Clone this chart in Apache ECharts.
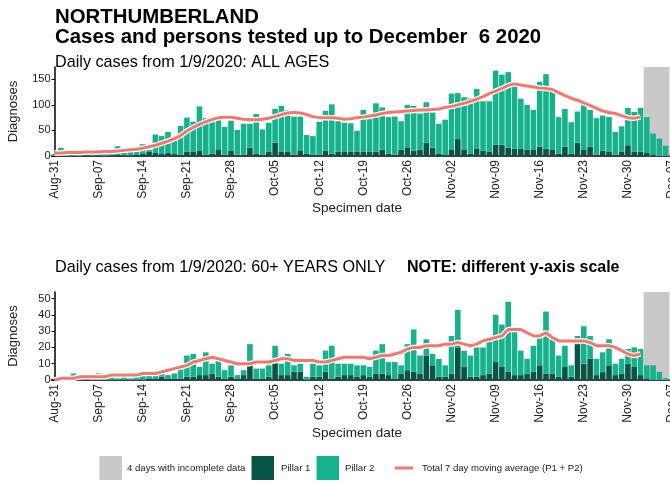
<!DOCTYPE html>
<html>
<head>
<meta charset="utf-8">
<script src="https://cdn.jsdelivr.net/npm/echarts@6/dist/echarts.min.js"></script>
<style>
  html, body { margin: 0; padding: 0; background: #fff; }
  #chart { width: 670px; height: 483px; }
</style>
</head>
<body>
<div id="chart"></div>
<script>
// day 0 = Aug-31, one tick label every 7 days
var tickLabels = ['Aug-31', 'Sep-07', 'Sep-14', 'Sep-21', 'Sep-28', 'Oct-05', 'Oct-12',
  'Oct-19', 'Oct-26', 'Nov-02', 'Nov-09', 'Nov-16', 'Nov-23', 'Nov-30', 'Dec-07'];
var dayCount = 99; // Aug-31 .. Dec-07

// ALL AGES
var allPillar1 = [
  0, 1, 0, 1, 0, 1, 0, 1, 0, 1,
  2, 1, 1, 2, 5, 8, 7, 4, 7, 4,
  3, 8, 9, 11, 3, 4, 13, 3, 11, 3,
  3, 16, 5, 3, 8, 26, 8, 9, 3, 11,
  4, 3, 3, 10, 4, 8, 9, 8, 8, 8,
  9, 8, 12, 4, 3, 12, 17, 10, 12, 26,
  16, 4, 3, 13, 33, 13, 5, 14, 10, 8,
  22, 22, 16, 14, 14, 12, 13, 18, 14, 13,
  5, 18, 4, 26, 13, 18, 3, 10, 9, 3,
  9, 21, 9, 8, 6, 2, 1, 1
];
var allPillar2 = [
  4, 15, 5, 5, 4, 6, 5, 5, 5, 6,
  17, 8, 9, 7, 18, 4, 35, 35, 40, 26,
  56, 67, 58, 86, 71, 62, 57, 54, 58, 48,
  60, 47, 77, 49, 57, 66, 90, 81, 74, 66,
  37, 36, 64, 78, 97, 60, 56, 56, 41, 82,
  63, 95, 83, 72, 74, 56, 83, 88, 71, 79,
  69, 59, 68, 109, 90, 102, 108, 117, 97, 99,
  145, 137, 148, 124, 98, 88, 77, 127, 146, 120,
  71, 74, 62, 61, 86, 72, 71, 69, 67, 44,
  49, 73, 77, 86, 70, 42, 33, 19
];
var allAverage = [
  6, 6, 7, 7, 7, 8, 8, 8, 9, 9,
  10, 11, 12, 13, 15, 18, 21, 25, 29, 34,
  40, 49, 56, 62, 67, 71, 75, 76, 76, 74,
  72, 71, 71, 72, 74, 77, 81, 84, 85, 84,
  81, 77, 75, 75, 75, 74, 72, 73, 75, 76,
  78, 80, 83, 85, 86, 87, 88, 89, 90, 90,
  91, 92, 95, 97, 100, 103, 107, 111, 116, 122,
  127, 132, 138, 141, 139, 137, 135, 133, 132, 130,
  124, 118, 113, 109, 104, 99, 93, 88, 85, 83,
  79, 75, 74, 76
];

// 60+ YEARS ONLY
var oldPillar1 = [
  0, 0, 0, 0, 0, 0, 0, 0, 0, 0,
  0, 0, 0, 0, 0, 1, 1, 2, 1, 1,
  1, 2, 2, 3, 3, 4, 2, 1, 2, 1,
  3, 12, 1, 1, 2, 10, 3, 3, 5, 5,
  0, 2, 2, 5, 1, 2, 3, 3, 2, 3,
  2, 4, 4, 3, 1, 4, 6, 5, 4, 15,
  9, 2, 2, 4, 20, 8, 2, 2, 3, 4,
  11, 8, 5, 3, 3, 4, 5, 9, 4, 4,
  2, 8, 2, 22, 10, 13, 3, 5, 9, 3,
  4, 10, 8, 3, 1, 0, 0, 0
];
var oldPillar2 = [
  0, 1, 0, 4, 1, 0, 1, 4, 1, 2,
  1, 2, 1, 2, 3, 4, 2, 2, 2, 3,
  8, 13, 14, 5, 14, 6, 11, 5, 7, 2,
  3, 10, 6, 6, 7, 11, 7, 13, 4, 5,
  2, 8, 7, 13, 20, 8, 7, 7, 7, 6,
  6, 14, 18, 8, 10, 5, 16, 26, 11, 10,
  7, 11, 7, 23, 23, 10, 13, 18, 17, 21,
  29, 26, 43, 29, 15, 9, 16, 17, 38, 23,
  13, 13, 7, 5, 23, 14, 10, 12, 16, 7,
  9, 9, 12, 16, 8, 9, 5, 1
];
var oldAverage = [
  0, 1, 1, 1, 2, 2, 2, 2, 2, 3,
  3, 3, 3, 3, 4, 4, 4, 5, 6, 7,
  8, 9, 11, 12, 13, 14, 13, 12, 11, 10,
  10, 10, 11, 11, 11, 12, 13, 13, 12, 12,
  12, 12, 11, 11, 12, 13, 14, 14, 14, 14,
  13, 14, 15, 15, 16, 17, 19, 20, 20, 21,
  21, 21, 22, 22, 23, 22, 21, 22, 24, 25,
  26, 27, 31, 31, 31, 29, 27, 27, 29, 26,
  24, 24, 24, 24, 24, 23, 21, 21, 21, 20,
  18, 16, 15, 16
];

var incompleteFrom = 93.5; // Dec 3 .. Dec 6
var incompleteTo = 97.6;

var colP1 = '#0b5443';
var colP2 = '#16b28d';
var colAvg = '#f7766b';
var colGrey = '#c9c9c9';
var font = "'Liberation Sans', Arial, sans-serif";

var days = [];
for (var i = 0; i < dayCount; i++) days.push(String(i));

function weekly(index) { return index % 7 === 0; }

function makeX(gridIndex) {
  return {
    type: 'category', gridIndex: gridIndex, data: days, boundaryGap: true,
    axisLine: { lineStyle: { color: '#000', width: 1.5 } },
    axisTick: { alignWithLabel: true, interval: weekly, length: 4, lineStyle: { color: '#000' } },
    axisLabel: {
      interval: weekly, rotate: 90, margin: 4,
      fontSize: 12, fontFamily: font, color: '#222',
      formatter: function (v, idx) { return tickLabels[Math.round(idx / 7)] || ''; }
    },
    splitLine: { show: false }
  };
}

// hidden linear day axis used only to place the grey band
function makeDayAxis(gridIndex) {
  return {
    type: 'value', gridIndex: gridIndex, min: -0.5, max: dayCount - 0.5, show: false
  };
}

function makeY(gridIndex, max, ticks) {
  return {
    type: 'value', gridIndex: gridIndex, min: 0, max: max, offset: -3.15,
    name: 'Diagnoses', nameLocation: 'middle', nameGap: 35,
    nameTextStyle: { fontSize: 13, fontFamily: font, color: '#222' },
    axisLine: { show: true, lineStyle: { color: '#000', width: 1.5 } },
    axisTick: { show: true, customValues: ticks, length: 3, lineStyle: { color: '#000' } },
    axisLabel: { customValues: ticks, margin: 4, fontSize: 11, fontFamily: font, color: '#222' },
    splitLine: { show: false }
  };
}

function panelSeries(idx, p1, p2, avg) {
  var xCat = idx * 2, xDay = idx * 2 + 1;
  return [
    {
      type: 'line', xAxisIndex: xDay, yAxisIndex: idx, data: [], z: 0, silent: true,
      markArea: {
        silent: true,
        itemStyle: { color: colGrey },
        data: [[{ xAxis: incompleteFrom, yAxis: 0 }, { xAxis: incompleteTo, yAxis: 'max' }]]
      }
    },
    {
      name: 'Pillar 1', type: 'bar', stack: 'p' + idx, xAxisIndex: xCat, yAxisIndex: idx,
      barWidth: 5.6, itemStyle: { color: colP1 }, data: p1
    },
    {
      name: 'Pillar 2', type: 'bar', stack: 'p' + idx, xAxisIndex: xCat, yAxisIndex: idx,
      barWidth: 5.6, itemStyle: { color: colP2 }, data: p2
    },
    {
      type: 'line', xAxisIndex: xCat, yAxisIndex: idx, symbol: 'none', z: 4,
      lineStyle: { color: '#fff', width: 5.5 }, data: avg, silent: true
    },
    {
      name: 'Total 7 day moving average (P1 + P2)', type: 'line',
      xAxisIndex: xCat, yAxisIndex: idx, symbol: 'none', z: 5,
      lineStyle: { color: colAvg, width: 3 }, data: avg
    }
  ];
}

function txt(text, left, top, size, bold) {
  return {
    text: text, left: left, top: top, padding: 0,
    textStyle: { fontSize: size, fontWeight: bold ? 'bold' : 'normal', fontFamily: font, color: '#000' }
  };
}

var chart = echarts.init(document.getElementById('chart'), null, { renderer: 'canvas' });

var gridLeft = 54.6 - 3.15;

chart.setOption({
  animation: false,
  backgroundColor: '#fff',
  title: [
    txt('NORTHUMBERLAND', 55, 7, 20.4, true),
    txt('Cases and persons tested up to December  6 2020', 55, 27, 20.4, true),
    txt('Daily cases from 1/9/2020: ALL AGES', 55, 55, 16.2, false),
    txt('Daily cases from 1/9/2020: 60+ YEARS ONLY', 55, 260, 16.2, false),
    txt('NOTE: different y-axis scale', 407, 260, 16, true),
    {
      text: 'Specimen date', left: 357, top: 201, padding: 0, textAlign: 'center',
      textStyle: { fontSize: 13.5, fontWeight: 'normal', fontFamily: font, color: '#222' }
    },
    {
      text: 'Specimen date', left: 357, top: 426, padding: 0, textAlign: 'center',
      textStyle: { fontSize: 13.5, fontWeight: 'normal', fontFamily: font, color: '#222' }
    }
  ],
  grid: [
    { left: gridLeft, top: 67, width: 623.7, height: 89, outerBoundsMode: 'none', containLabel: false },
    { left: gridLeft, top: 292, width: 623.7, height: 88, outerBoundsMode: 'none', containLabel: false }
  ],
  xAxis: [makeX(0), makeDayAxis(0), makeX(1), makeDayAxis(1)],
  yAxis: [makeY(0, 174, [0, 50, 100, 150]), makeY(1, 54, [0, 10, 20, 30, 40, 50])],
  series: panelSeries(0, allPillar1, allPillar2, allAverage)
    .concat(panelSeries(1, oldPillar1, oldPillar2, oldAverage)),
  graphic: [
    { type: 'rect', shape: { x: 99.5, y: 456, width: 22.5, height: 24 }, style: { fill: colGrey } },
    { type: 'text', x: 127, y: 468, style: { text: '4 days with incomplete data', font: '9.6px ' + font, fill: '#222', verticalAlign: 'middle' } },
    { type: 'rect', shape: { x: 251.5, y: 456, width: 22.5, height: 24 }, style: { fill: colP1 } },
    { type: 'text', x: 281, y: 468, style: { text: 'Pillar 1', font: '9.6px ' + font, fill: '#222', verticalAlign: 'middle' } },
    { type: 'rect', shape: { x: 316.5, y: 456, width: 22.5, height: 24 }, style: { fill: colP2 } },
    { type: 'text', x: 345, y: 468, style: { text: 'Pillar 2', font: '9.6px ' + font, fill: '#222', verticalAlign: 'middle' } },
    { type: 'line', shape: { x1: 395, y1: 468, x2: 413, y2: 468 }, style: { stroke: colAvg, lineWidth: 3 } },
    { type: 'text', x: 422, y: 468, style: { text: 'Total 7 day moving average (P1 + P2)', font: '9.6px ' + font, fill: '#222', verticalAlign: 'middle' } }
  ]
});
</script>
</body>
</html>
